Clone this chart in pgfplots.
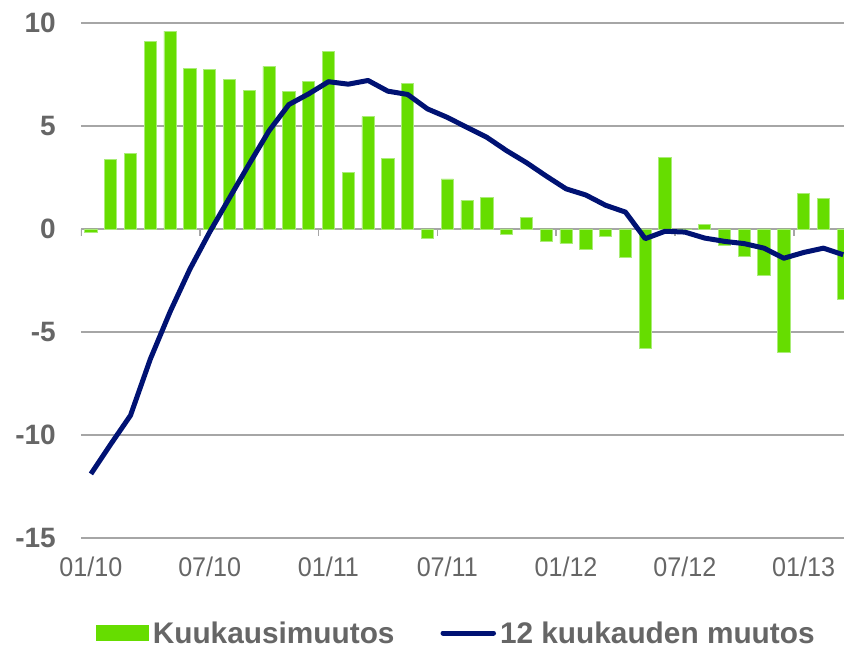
\documentclass[border=0pt]{standalone}
\usepackage{fontspec}
\setmainfont{Liberation Sans}
\newfontfamily\narrowfont[FakeStretch=0.93]{Liberation Sans}
\usepackage{pgfplots}
\pgfplotsset{compat=1.18}
\definecolor{bargreen}{RGB}{102,221,0}
\definecolor{baredge}{RGB}{170,236,120}
\definecolor{navyline}{RGB}{0,18,115}
\definecolor{txtgray}{RGB}{102,102,102}
\definecolor{gridgray}{RGB}{166,166,166}
\begin{document}
\begin{tikzpicture}
\begin{axis}[
  at={(0,0)}, anchor=south west,
  scale only axis, width=763pt, height=515pt,
  xmin=-0.5, xmax=38.04, ymin=-15, ymax=10,
  axis line style={draw=none},
  major tick length=0pt,
  ytick={-15,-10,-5,0,5,10},
  yticklabels={-15,-10,-5,0,5,10},
  ymajorgrids,
  grid style={gridgray, line width=1.6pt},
  xtick={0,6,12,18,24,30,36},
  xticklabels={01/10,07/10,01/11,07/11,01/12,07/12,01/13},
  xticklabel style={font=\narrowfont\fontsize{27}{30}\selectfont, text=txtgray, anchor=north, inner sep=0pt},
  xticklabel shift=19pt,
  yticklabel style={font=\bfseries\fontsize{28}{30}\selectfont, text=txtgray, anchor=east, inner sep=0pt},
  yticklabel shift=25pt,
  legend columns=2,
  legend style={draw=none, fill=none, inner sep=0pt, outer sep=0pt,
    at={(axis description cs:0.01966,-0.1845)}, anchor=west,
    font=\bfseries\fontsize{29.8}{31}\selectfont, text=txtgray,
    nodes={inner xsep=4pt, inner ysep=0pt},
    /tikz/every even column/.append style={column sep=42pt}},
]
\pgfplotsinvokeforeach{-0.5,5.5,11.5,17.5,23.5,29.5,35.5}{
  \draw[gridgray, line width=1.6pt] (axis cs:#1,0) -- ++(0pt,-7pt);
}
\addplot[ybar, bar width=0.62, fill=bargreen, draw=baredge, line width=0.8pt,
  legend image code/.code={\fill[bargreen] (0pt,-7.5pt) rectangle (52pt,7.5pt);}]
coordinates {
(0,-0.15) (1,3.36) (2,3.68) (3,9.12) (4,9.61) (5,7.80) (6,7.74) (7,7.26)
(8,6.73) (9,7.90) (10,6.68) (11,7.15) (12,8.62) (13,2.74) (14,5.46) (15,3.42)
(16,7.08) (17,-0.44) (18,2.43) (19,1.39) (20,1.55) (21,-0.24) (22,0.56) (23,-0.60)
(24,-0.70) (25,-0.98) (26,-0.38) (27,-1.38) (28,-5.78) (29,3.47) (30,-0.02) (31,0.23)
(32,-0.78) (33,-1.35) (34,-2.23) (35,-6.01) (36,1.73) (37,1.48) (38,-3.40)
};
\addlegendentry{Kuukausimuutos}
\addplot[navyline, line width=5pt, line join=round, no marks,
  legend image code/.code={\draw[navyline, line width=5pt, line cap=round] (2.5pt,0pt) -- (53pt,0pt);}]
coordinates {
(0,-11.89) (1,-10.45) (2,-9.05) (3,-6.32) (4,-4.02) (5,-1.95) (6,-0.15) (7,1.51)
(8,3.16) (9,4.77) (10,6.04) (11,6.56) (12,7.15) (13,7.03) (14,7.21) (15,6.69)
(16,6.53) (17,5.83) (18,5.42) (19,4.93) (20,4.45) (21,3.80) (22,3.22) (23,2.57)
(24,1.95) (25,1.65) (26,1.15) (27,0.82) (28,-0.47) (29,-0.11) (30,-0.15) (31,-0.44)
(32,-0.60) (33,-0.71) (34,-0.93) (35,-1.42) (36,-1.14) (37,-0.93) (38,-1.25)
};
\addlegendentry{12 kuukauden muutos}
\end{axis}
\pgfresetboundingbox
\path (-81pt,-109pt) rectangle (763pt,538pt);
\end{tikzpicture}
\end{document}
